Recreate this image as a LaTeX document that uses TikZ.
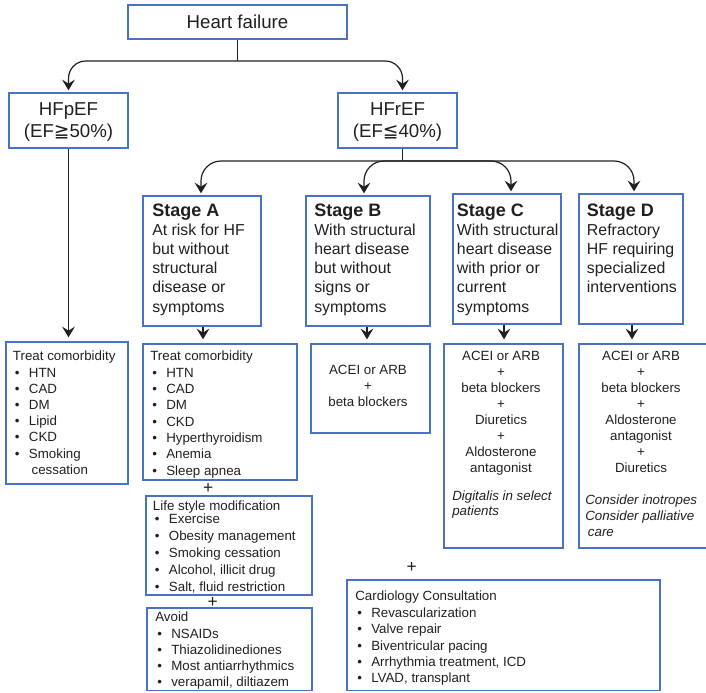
\documentclass[tikz,border=0pt]{standalone}
\usepackage{fontspec}
\setmainfont{Liberation Sans}
\newfontfamily\dejavu{DejaVu Sans}
\usetikzlibrary{arrows.meta,fit,calc}
\definecolor{boxblue}{RGB}{74,114,196}
\definecolor{ink}{RGB}{35,31,32}
\newcommand{\bul}{\hspace*{1.5pt}\makebox[10.5pt][l]{\textbullet}}
\newcommand{\tstr}{\rule{0pt}{8pt}}
\begin{document}
\begin{tikzpicture}[x=0.75pt,y=-0.75pt,
  box/.style={draw=boxblue, line width=1pt, inner sep=0pt, text=ink},
  tb/.style={anchor=north west, inner sep=0pt, align=left, text=ink},
  tc/.style={anchor=north, inner sep=0pt, align=center, text=ink},
  conn/.style={draw=ink, line width=0.9pt},
  arr/.style={conn, -{Stealth[length=8pt,width=9.5pt,inset=3pt]}, shorten >=1.5pt},
  plus/.style={font=\fontsize{13}{13}\selectfont, text=ink, inner sep=0pt},
  stg/.style={tb, font=\fontsize{11.9}{14.4}\selectfont},
  big/.style={font=\fontsize{14}{17}\selectfont}]
\useasboundingbox (0,0) rectangle (706,692);

% top level
\node[box, fit={(128,5)(347,39)}] (hf) {};
\node[big, anchor=base, text=ink, inner sep=0pt] (thf) at (237.5,28.3) {Heart failure};
\node[box, fit={(9,93)(128,148)}] (hfp) {};
\node[tc, big] (thfp) at (68.5,101) {\rule{0pt}{10.5pt}HFpEF\\(EF{\dejavu ≧}50\%)};
\node[box, fit={(338,93)(457,148)}] (hfr) {};
\node[tc, big] (thfr) at (397.5,101) {\rule{0pt}{10.5pt}HFrEF\\(EF{\dejavu ≦}40\%)};

\coordinate (j1) at (237.5,61);
\draw[conn] (hf.south) -- (j1);
\draw[arr, rounded corners=13pt] (j1) -| (hfp.north);
\draw[arr, rounded corners=13pt] (j1) -| ($(hfr.north)+(5,0)$);

% stage boxes
\node[box, fit={(143,196)(261,326)}] (sA) {};
\node[box, fit={(306,196)(430,326)}] (sB) {};
\node[box, fit={(453,194)(561,324)}] (sC) {};
\node[box, fit={(579,194)(683,324)}] (sD) {};

\node[stg] (tA) at (152,202.4) {{\rule{0pt}{10pt}\fontsize{13.5}{14.4}\selectfont\bfseries Stage A}\\At risk for HF\\but without\\structural\\disease or\\symptoms};
\node[stg] (tB) at (314,202.4) {{\rule{0pt}{10pt}\fontsize{13.5}{14.4}\selectfont\bfseries Stage B}\\With structural\\heart disease\\but without\\signs or\\symptoms};
\node[stg] (tC) at (456.7,202.4) {{\rule{0pt}{10pt}\fontsize{13.5}{14.4}\selectfont\bfseries Stage C}\\With structural\\heart disease\\with prior or\\current\\symptoms};
\node[stg] (tD) at (586.7,202.4) {{\rule{0pt}{10pt}\fontsize{13.5}{14.4}\selectfont\bfseries Stage D}\\Refractory\\HF requiring\\specialized\\interventions};

\coordinate (j2) at (402.7,161);
\draw[conn] (hfr.south -| j2) -- (j2);
\draw[arr, rounded corners=15pt] (j2) -| ($(sA.north)+(-1,0)$);
\draw[arr, rounded corners=15pt] (j2) -| ($(sB.north)+(-4,0)$);
\draw[arr, rounded corners=15pt] (j2) -| ($(sC.north)+(4,0)$);
\draw[arr, rounded corners=15pt] (j2) -| ($(sD.north)+(3,0)$);

% treatment boxes
\node[box, fit={(6,342)(128,484)}] (pL) {};
\node[box, fit={(143,344)(297,480)}] (lA) {};
\node[box, fit={(311,344)(430,433)}] (dB) {};
\node[box, fit={(444,344)(563,548)}] (dC) {};
\node[box, fit={(579,344)(712,548)}] (dD) {};
\node[box, fit={(146,496)(312,595)}] (life) {};
\node[box, fit={(147,608)(312,690.5)}] (avoid) {};
\node[box, fit={(347,580)(660,690.5)}] (cardio) {};

\draw[arr, shorten >=3pt] (hfp.south) -- (hfp.south |- pL.north);
\draw[arr, shorten >=3pt] ($(sA.south)+(1,0)$) coordinate (a1) -- (a1 |- lA.north);
\draw[arr, shorten >=3pt] ($(sB.south)+(-1,0)$) coordinate (b1) -- (b1 |- dB.north);
\draw[arr, shorten >=3pt] ($(sC.south)+(-3,0)$) coordinate (c1) -- (c1 |- dC.north);
\draw[arr, shorten >=3pt] ($(sD.south)+(1,0)$) coordinate (d1) -- (d1 |- dD.north);

% list texts
\node[tb, font=\fontsize{10}{12.15}\selectfont] (tpL) at (12.7,350) {\tstr Treat comorbidity\\\bul HTN\\\bul CAD\\\bul DM\\\bul Lipid\\\bul CKD\\\bul Smoking\\\hspace*{14pt}cessation};
\node[tb, font=\fontsize{10}{12.25}\selectfont] (tlA) at (150,350) {\tstr Treat comorbidity\\\bul HTN\\\bul CAD\\\bul DM\\\bul CKD\\\bul Hyperthyroidism\\\bul Anemia\\\bul Sleep apnea};
\node[tb, font=\fontsize{10}{12.75}\selectfont] (tlife) at (152.7,500) {\tstr Life style modification\\[-3.25pt]\bul Exercise\\\bul Obesity management\\\bul Smoking cessation\\\bul Alcohol, illicit drug\\\bul Salt, fluid restriction};
\node[tb, font=\fontsize{10}{12.1}\selectfont] (tavoid) at (155,611) {\tstr Avoid\\\bul NSAIDs\\\bul Thiazolidinediones\\\bul Most antiarrhythmics\\\bul verapamil, diltiazem};
\node[tb, font=\fontsize{10}{12.3}\selectfont] (tcardio) at (355,590) {\tstr Cardiology Consultation\\\bul Revascularization\\\bul Valve repair\\\bul Biventricular pacing\\\bul Arrhythmia treatment, ICD\\\bul LVAD, transplant};

% drug texts
\node[tc, font=\fontsize{10}{12}\selectfont] (tdB) at (368,363.3) {\tstr ACEI or ARB\\+\\beta blockers};
\node[tc, font=\fontsize{10}{12}\selectfont] (tdC) at (501,350) {\tstr ACEI or ARB\\+\\beta blockers\\+\\Diuretics\\+\\Aldosterone\\antagonist};
\node[tb, font=\fontsize{10}{11.8}\selectfont\itshape] (tdC2) at (452,489.3) {\tstr Digitalis in select\\patients};
\node[tc, font=\fontsize{10}{12}\selectfont] (tdD) at (641,350) {\tstr ACEI or ARB\\+\\beta blockers\\+\\Aldosterone\\antagonist\\+\\Diuretics};
\node[tb, font=\fontsize{10}{12}\selectfont\itshape] (tdD2) at (585,493.3) {\tstr Consider inotropes\\Consider palliative\\\hspace*{2pt}care};

% plus signs
\node[plus] (p1) at (208.3,488.8) {+};
\node[plus] (p2) at (212.7,602) {+};
\node[plus] (p3) at (411.7,567.7) {+};
\end{tikzpicture}
\end{document}
